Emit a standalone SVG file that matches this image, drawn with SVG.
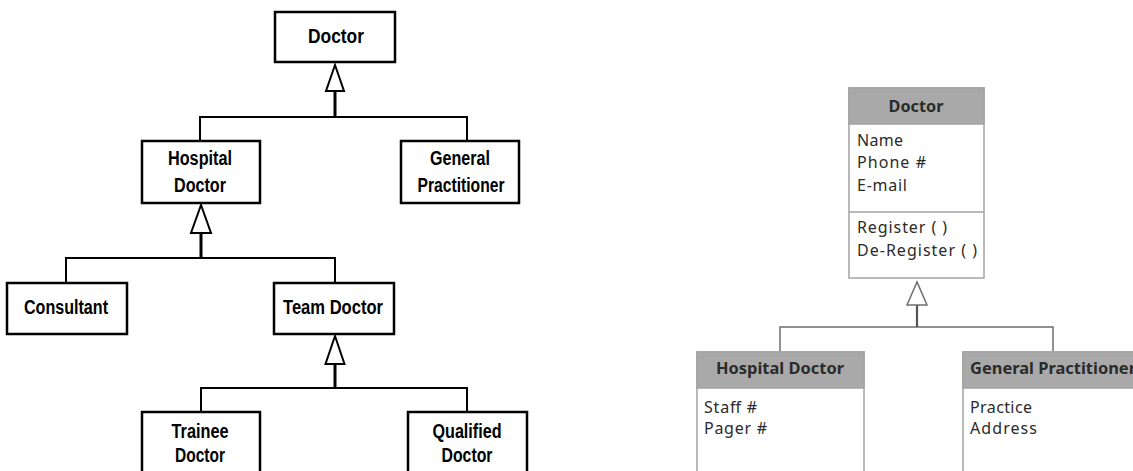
<svg xmlns="http://www.w3.org/2000/svg" width="1133" height="471" viewBox="0 0 1133 471">
  <style>
    .box { fill: #ffffff; stroke: #000000; stroke-width: 2.5; }
    .lbl { font-family: "Liberation Sans", Arial, sans-serif; font-weight: bold; font-size: 20px; fill: #000000; text-anchor: middle; }
    .wire { fill: none; stroke: #000000; stroke-width: 2; }
    .stem { fill: none; stroke: #000000; stroke-width: 3; }
    .head { fill: #ffffff; stroke: #000000; stroke-width: 2; stroke-linejoin: miter; }
    .cls { fill: #ffffff; stroke: #a3a3a3; stroke-width: 1.5; }
    .hdr { fill: #a9a9a9; stroke: #a3a3a3; stroke-width: 1.5; }
    .sep { stroke: #a3a3a3; stroke-width: 1.5; }
    .ctitle { font-family: "Noto Sans", "Open Sans", sans-serif; font-weight: bold; font-size: 16px; fill: #2b2b2b; text-anchor: middle; }
    .attr { font-family: "Noto Sans", "Open Sans", sans-serif; font-size: 16px; fill: #2b2b2b; }
    .uwire { fill: none; stroke: #6e6e6e; stroke-width: 1.5; }
    .ustem { fill: none; stroke: #555555; stroke-width: 2.2; }
    .uhead { fill: #ffffff; stroke: #6e6e6e; stroke-width: 1.5; }
  </style>

  <!-- Left: class hierarchy drawn as plain boxes -->
  <g id="connectors-left">
    <!-- Doctor generalisation -->
    <polyline class="wire" points="200,141 200,117 467,117 467,141"/>
    <line class="stem" x1="335" y1="91" x2="335" y2="118"/>
    <polygon class="head" points="335,65 326,91 344,91"/>
    <!-- Hospital Doctor generalisation -->
    <polyline class="wire" points="66,283 66,258 335,258 335,283"/>
    <line class="stem" x1="201" y1="233" x2="201" y2="259"/>
    <polygon class="head" points="201,205 191,233 211,233"/>
    <!-- Team Doctor generalisation -->
    <polyline class="wire" points="201,412 201,388 467,388 467,412"/>
    <line class="stem" x1="335" y1="364" x2="335" y2="389"/>
    <polygon class="head" points="335,336 325.5,364 344.5,364"/>
  </g>

  <g id="doctor">
    <rect class="box" x="275" y="12" width="120" height="50"/>
    <text class="lbl" x="336" y="43" textLength="56" lengthAdjust="spacingAndGlyphs">Doctor</text>
  </g>
  <g id="hospital-doctor">
    <rect class="box" x="142" y="141" width="118" height="62"/>
    <text class="lbl" x="200" y="165" textLength="64" lengthAdjust="spacingAndGlyphs">Hospital</text>
    <text class="lbl" x="200" y="192" textLength="52" lengthAdjust="spacingAndGlyphs">Doctor</text>
  </g>
  <g id="general-practitioner">
    <rect class="box" x="401" y="141" width="118" height="62"/>
    <text class="lbl" x="460" y="165" textLength="60" lengthAdjust="spacingAndGlyphs">General</text>
    <text class="lbl" x="461" y="192" textLength="87" lengthAdjust="spacingAndGlyphs">Practitioner</text>
  </g>
  <g id="consultant">
    <rect class="box" x="7" y="283" width="120" height="51"/>
    <text class="lbl" x="66" y="314" textLength="84" lengthAdjust="spacingAndGlyphs">Consultant</text>
  </g>
  <g id="team-doctor">
    <rect class="box" x="274" y="283" width="120" height="51"/>
    <text class="lbl" x="333" y="314" textLength="100" lengthAdjust="spacingAndGlyphs">Team Doctor</text>
  </g>
  <g id="trainee-doctor">
    <rect class="box" x="142" y="412" width="118" height="70"/>
    <text class="lbl" x="200" y="438" textLength="57" lengthAdjust="spacingAndGlyphs">Trainee</text>
    <text class="lbl" x="200" y="462" textLength="50" lengthAdjust="spacingAndGlyphs">Doctor</text>
  </g>
  <g id="qualified-doctor">
    <rect class="box" x="408" y="412" width="119" height="70"/>
    <text class="lbl" x="467" y="438" textLength="69" lengthAdjust="spacingAndGlyphs">Qualified</text>
    <text class="lbl" x="467" y="462" textLength="51" lengthAdjust="spacingAndGlyphs">Doctor</text>
  </g>

  <!-- Right: UML classes with attributes and operations -->
  <g id="connectors-right">
    <polyline class="uwire" points="780,352 780,327 1053,327 1053,352"/>
    <line class="ustem" x1="917" y1="305" x2="917" y2="327"/>
    <polygon class="uhead" points="917,282 907,305 927,305"/>
  </g>

  <g id="uml-doctor">
    <rect class="cls" x="849" y="88" width="135" height="190"/>
    <rect class="hdr" x="849" y="88" width="135" height="36"/>
    <text class="ctitle" x="916" y="112" textLength="55" lengthAdjust="spacingAndGlyphs">Doctor</text>
    <text class="attr" x="857" y="146" textLength="46">Name</text>
    <text class="attr" x="857" y="168" textLength="69">Phone #</text>
    <text class="attr" x="857" y="191" textLength="50">E-mail</text>
    <line class="sep" x1="849" y1="212" x2="984" y2="212"/>
    <text class="attr" x="857" y="233" textLength="90">Register ( )</text>
    <text class="attr" x="857" y="256" textLength="120">De-Register ( )</text>
  </g>

  <g id="uml-hospital-doctor">
    <rect class="cls" x="697" y="352" width="167" height="130"/>
    <rect class="hdr" x="697" y="352" width="167" height="36"/>
    <text class="ctitle" x="780" y="374" textLength="128" lengthAdjust="spacingAndGlyphs">Hospital Doctor</text>
    <text class="attr" x="704" y="413" textLength="53">Staff #</text>
    <text class="attr" x="704" y="434" textLength="63">Pager #</text>
  </g>

  <g id="uml-general-practitioner">
    <rect class="cls" x="963" y="352" width="180" height="130"/>
    <rect class="hdr" x="963" y="352" width="180" height="36"/>
    <text class="ctitle" x="1053" y="374" textLength="166" lengthAdjust="spacingAndGlyphs">General Practitioner</text>
    <text class="attr" x="970" y="413" textLength="62">Practice</text>
    <text class="attr" x="970" y="434" textLength="67">Address</text>
  </g>
</svg>
